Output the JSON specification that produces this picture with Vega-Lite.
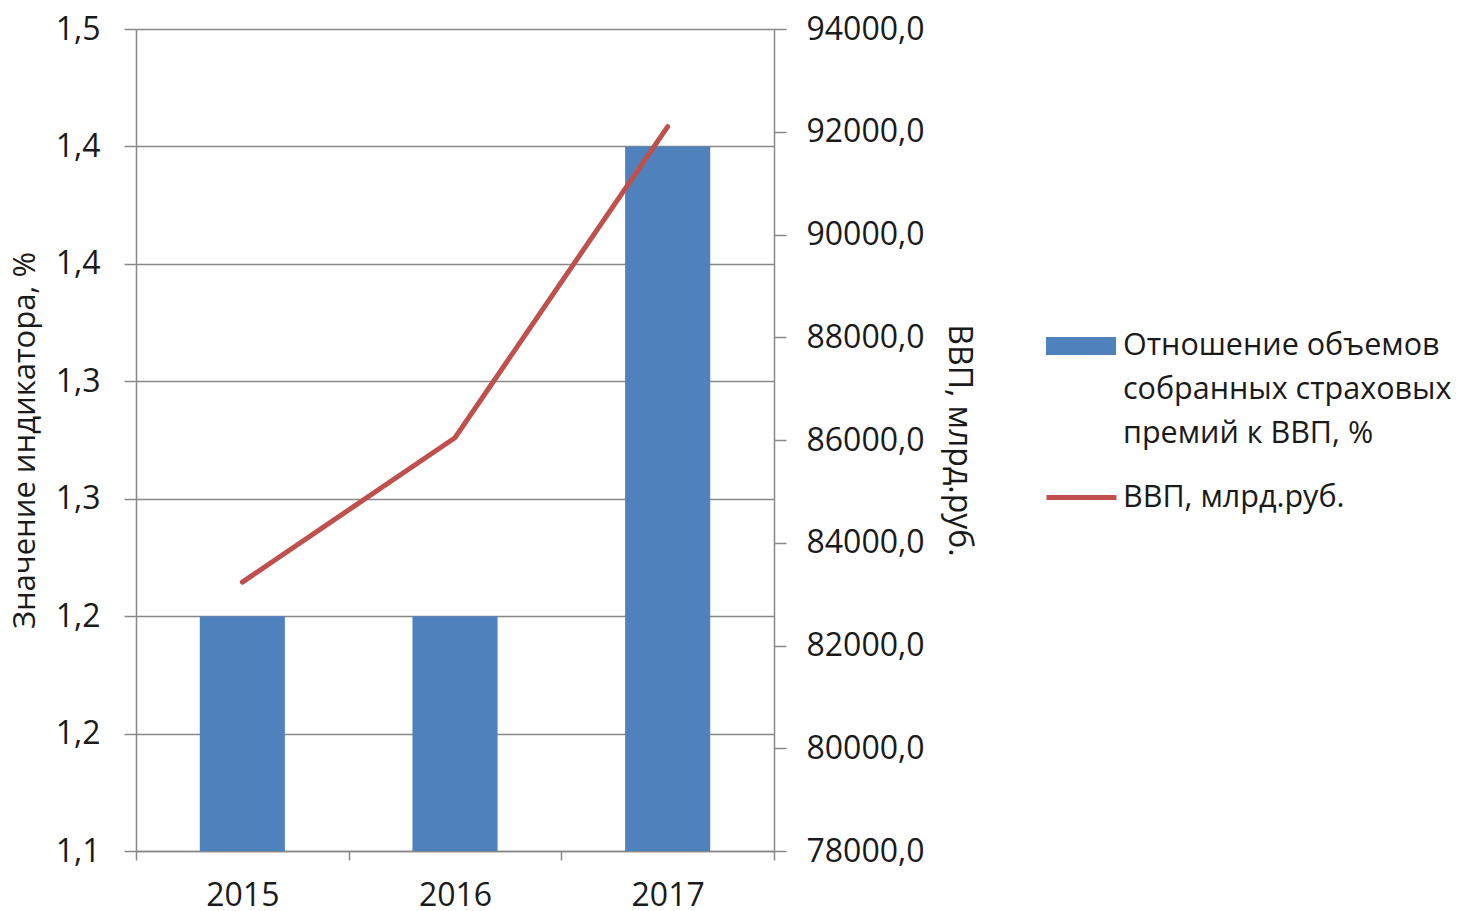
{
  "$schema": "https://vega.github.io/schema/vega-lite/v6.json",
  "width": 638,
  "height": 822,
  "autosize": "none",
  "padding": {"left": 136, "top": 29, "right": 689, "bottom": 60},
  "background": "white",
  "config": {
    "font": "Open Sans",
    "view": {"stroke": null},
    "axis": {
      "labelFont": "Open Sans",
      "labelFontSize": 32,
      "labelColor": "#1a1a1a",
      "titleFont": "Open Sans",
      "titleFontSize": 31,
      "titleFontWeight": "normal",
      "titleColor": "#1a1a1a",
      "domainColor": "#888888",
      "tickColor": "#888888",
      "gridColor": "#888888",
      "domainWidth": 1.5,
      "tickWidth": 1.5,
      "gridWidth": 1.5
    },
    "legend": {
      "labelFont": "Open Sans",
      "labelFontSize": 30.5,
      "labelColor": "#1a1a1a",
      "labelLimit": 600
    }
  },
  "data": {
    "values": [
      {"year": "2015", "ratio": 1.2, "gdp": 83233},
      {"year": "2016", "ratio": 1.2, "gdp": 86044},
      {"year": "2017", "ratio": 1.4, "gdp": 92101}
    ]
  },
  "encoding": {
    "x": {
      "field": "year",
      "type": "ordinal",
      "scale": {"paddingInner": 0, "paddingOuter": 0},
      "axis": {
        "title": null,
        "labelAngle": 0,
        "tickBand": "extent",
        "tickSize": 9,
        "labelPadding": 20
      }
    }
  },
  "layer": [
    {
      "mark": {"type": "bar", "width": {"band": 0.4}, "clip": true},
      "encoding": {
        "y": {
          "field": "ratio",
          "type": "quantitative",
          "scale": {"domain": [1.1, 1.45], "zero": false, "nice": false},
          "axis": {
            "title": "Значение индикатора, %",
            "values": [1.1, 1.15, 1.2, 1.25, 1.3, 1.35, 1.4, 1.45],
            "labelExpr": "replace(format(datum.value + 0.000001, '.1f'), '.', ',')",
            "grid": true,
            "tickSize": 12,
            "labelPadding": 24,
            "titlePadding": 14
          }
        },
        "fill": {
          "datum": "Отношение объемов\nсобранных страховых\nпремий к ВВП, %",
          "type": "nominal",
          "scale": {"range": ["#4F81BD"]},
          "legend": {
            "title": null,
            "orient": "none",
            "legendX": 910,
            "legendY": 282,
            "symbolType": "M-1,-0.257H1V0.257H-1Z",
            "symbolSize": 4900,
            "symbolStrokeWidth": 0,
            "labelOffset": 7,
            "labelExpr": "split(datum.label, '\\n')",
            "encode": {"labels": {"update": {"lineHeight": {"value": 44}}}}
          }
        }
      }
    },
    {
      "mark": {"type": "line", "strokeWidth": 5, "strokeCap": "round"},
      "encoding": {
        "y": {
          "field": "gdp",
          "type": "quantitative",
          "scale": {"domain": [78000, 94000], "zero": false, "nice": false},
          "axis": {
            "orient": "right",
            "title": "ВВП, млрд.руб.",
            "titleFontSize": 32,
            "values": [78000, 80000, 82000, 84000, 86000, 88000, 90000, 92000, 94000],
            "labelExpr": "replace(format(datum.value, '.1f'), '.', ',')",
            "grid": false,
            "tickSize": 12,
            "labelPadding": 20,
            "titlePadding": 17
          }
        },
        "stroke": {
          "datum": "ВВП, млрд.руб.",
          "type": "nominal",
          "scale": {"range": ["#C0504D"]},
          "legend": {
            "title": null,
            "orient": "none",
            "legendX": 908,
            "legendY": 431,
            "symbolType": "stroke",
            "symbolSize": 4900,
            "symbolStrokeWidth": 5,
            "labelOffset": 4
          }
        }
      }
    }
  ],
  "resolve": {"scale": {"y": "independent", "fill": "independent", "stroke": "independent"}}
}
